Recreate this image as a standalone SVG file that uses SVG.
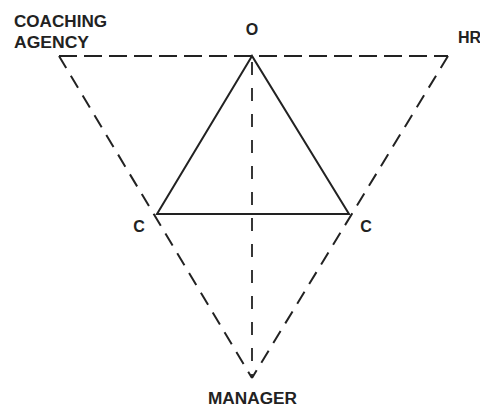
<svg xmlns="http://www.w3.org/2000/svg" width="480" height="406" viewBox="0 0 480 406">
<style>
.d{fill:none;stroke:#222;stroke-width:2}
.top{stroke-dasharray:18 7}
.diag{stroke-dasharray:14 9}
.vert{stroke-dasharray:13 13;stroke-width:1.8}
.s{fill:none;stroke:#222;stroke-width:2}
text{font-family:"Liberation Sans",Arial,sans-serif;font-size:16px;font-weight:bold;fill:#222}
</style>
<rect width="480" height="406" fill="#fff"/>
<g id="connectors">
<line class="d top" x1="59" y1="56" x2="448" y2="56"/>
<line class="d diag" x1="59" y1="56" x2="252" y2="378"/>
<line class="d diag" x1="448" y1="56" x2="252" y2="378"/>
<line class="d vert" x1="252" y1="62" x2="252" y2="378"/>
<polygon class="s" points="252,56 157,214 349,214"/>
</g>
<g id="coaching-agency"><text x="14" y="27" textLength="93" lengthAdjust="spacingAndGlyphs">COACHING</text><text x="14" y="48" textLength="75" lengthAdjust="spacingAndGlyphs">AGENCY</text></g>
<g id="o"><text x="252" y="35" text-anchor="middle">O</text></g>
<g id="hr"><text x="458" y="43">HR</text></g>
<g id="c-left"><text x="139" y="232" text-anchor="middle">C</text></g>
<g id="c-right"><text x="366" y="232" text-anchor="middle">C</text></g>
<g id="manager"><text x="208" y="404" textLength="89" lengthAdjust="spacingAndGlyphs">MANAGER</text></g>
</svg>
